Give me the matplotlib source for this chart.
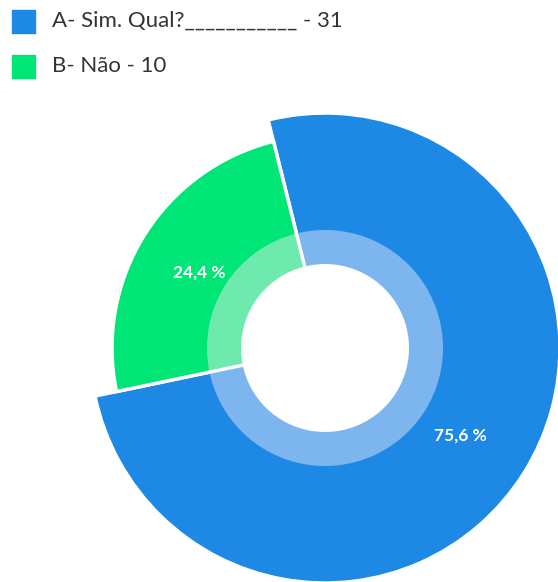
import matplotlib
matplotlib.use("Agg")
import matplotlib.pyplot as plt
from matplotlib.patches import Rectangle
import numpy as np

categories = ["A- Sim. Qual?___________", "B- Não"]
counts = [31, 10]
colors = ["#1e88e5", "#00e676"]
inner_colors = ["#7db5ef", "#6eeaae"]

W, H = 558, 582
fig = plt.figure(figsize=(W / 100, H / 100), dpi=100)
ax = fig.add_axes([0, 0, 1, 1])

cx, cy = 325, H - 348
outer_r = [235, 213]
ring_r, hole_r = 118, 84
start = 104

# outer slices, each with its own radius, all open down to the hole
wedges, _ = ax.pie(counts, colors=colors, startangle=start, counterclock=False,
                   radius=1, center=(cx, cy),
                   wedgeprops=dict(edgecolor="white", linewidth=2.5))
for w, r in zip(wedges, outer_r):
    w.set_radius(r)
    w.set_width(r - hole_r)

# lighter inner ring
ax.pie(counts, colors=inner_colors, startangle=start, counterclock=False,
       radius=ring_r, center=(cx, cy),
       wedgeprops=dict(width=ring_r - hole_r, edgecolor="none"))

# white separators running through the inner ring, plus percentage labels
total = sum(counts)
ang = start
for c, r in zip(counts, outer_r):
    span = 360 * c / total
    a0 = np.deg2rad(ang)
    ax.plot([cx + hole_r * np.cos(a0), cx + (ring_r + 2) * np.cos(a0)],
            [cy + hole_r * np.sin(a0), cy + (ring_r + 2) * np.sin(a0)],
            color="white", lw=2.5, solid_capstyle="butt")
    mid = np.deg2rad(ang - span / 2)
    d = (r + hole_r) / 2
    pct = f"{100 * c / total:.1f}".replace(".", ",") + " %"
    ax.text(cx + d * np.cos(mid), cy + d * np.sin(mid) - 3, pct, color="white",
            fontsize=12.5, fontweight="bold", family="Lato",
            ha="center", va="center")
    ang -= span

# legend
for i, (cat, c, col) in enumerate(zip(categories, counts, colors)):
    y = H - 21 - i * 45
    ax.add_patch(Rectangle((12, y - 11.5), 23, 23, color=col))
    ax.text(52, y, f"{cat} - {c}", fontsize=16, family="Lato", color="#333333",
            ha="left", va="center")

ax.set_xlim(0, W)
ax.set_ylim(0, H)
ax.set_aspect("equal")
ax.axis("off")
fig.savefig("out.png", dpi=100)
